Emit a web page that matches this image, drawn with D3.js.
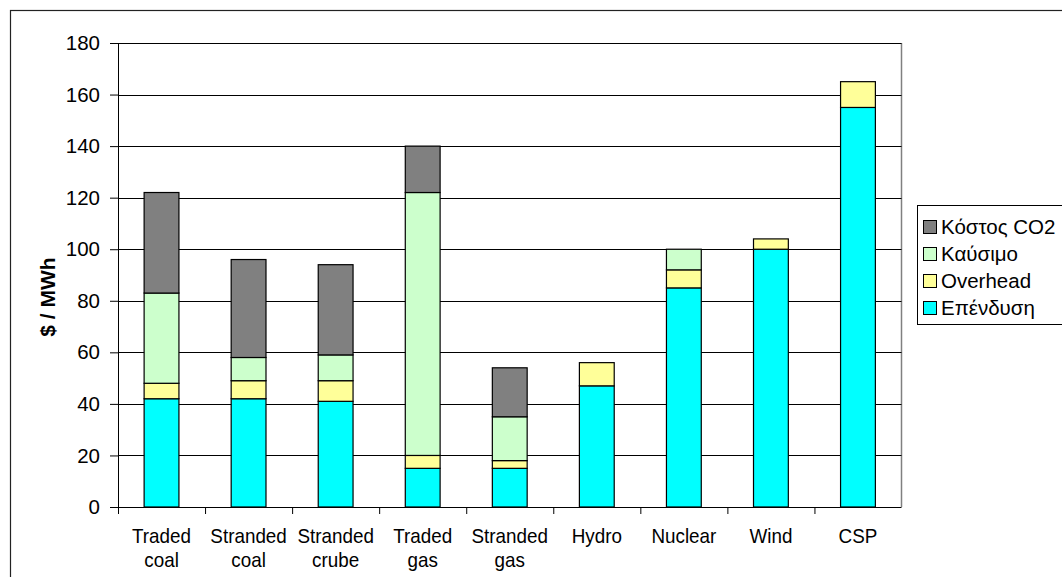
<!DOCTYPE html>
<html>
<head>
<meta charset="utf-8">
<script src="https://cdn.jsdelivr.net/npm/d3@7"></script>
<style>
  html, body { margin: 0; padding: 0; background: #fff; }
  svg { display: block; font-family: "Liberation Sans", Arial, sans-serif; }
</style>
</head>
<body>
<svg id="chart" width="1062" height="577"></svg>
<script>
// Cost components per technology, $ / MWh
const categories = [
  ["Traded", "coal"], ["Stranded", "coal"], ["Stranded", "crube"],
  ["Traded", "gas"], ["Stranded", "gas"], ["Hydro"], ["Nuclear"], ["Wind"], ["CSP"]
];
const seriesNames = ["Επένδυση", "Overhead", "Καύσιμο", "Κόστος CO2"];
const investment = [42, 42, 41, 15, 15, 47, 85, 100, 155];
const overhead   = [6, 7, 8, 5, 3, 9, 7, 4, 10];
const fuel       = [35, 9, 10, 102, 17, 0, 8, 0, 0];
const co2Cost    = [39, 38, 35, 18, 19, 0, 0, 0, 0];
const yTicks = [0, 20, 40, 60, 80, 100, 120, 140, 160, 180];

const colors = ["#00FFFF", "#FFFF99", "#CCFFCC", "#808080"];

const svg = d3.select("#chart");
const keys = categories.map(c => c.join(" "));
const rows = keys.map((k, i) => ({
  key: k,
  "Επένδυση": investment[i],
  "Overhead": overhead[i],
  "Καύσιμο": fuel[i],
  "Κόστος CO2": co2Cost[i]
}));

const plotLeft = 118, plotRight = 901.5, plotTop = 43, plotBottom = 507;
const x = d3.scaleBand().domain(keys).range([plotLeft, plotRight]).padding(0);
const y = d3.scaleLinear().domain([0, 180]).range([plotBottom, plotTop]);
const color = d3.scaleOrdinal().domain(seriesNames).range(colors);

// outer chart frame
svg.append("rect")
  .attr("x", 10.5).attr("y", 10.5)
  .attr("width", 1100).attr("height", 700)
  .attr("fill", "none").attr("stroke", "#222").attr("stroke-width", 1.2);

// plot-area right edge
svg.append("line")
  .attr("x1", plotRight).attr("x2", plotRight)
  .attr("y1", plotTop).attr("y2", plotBottom)
  .attr("stroke", "#808080").attr("stroke-width", 1.5);

// horizontal gridlines
svg.append("g").selectAll("line")
  .data(yTicks.filter(d => d > 0))
  .join("line")
  .attr("x1", plotLeft).attr("x2", plotRight)
  .attr("y1", d => Math.round(y(d)) + 0.5).attr("y2", d => Math.round(y(d)) + 0.5)
  .attr("stroke", "#000").attr("stroke-width", 1);

// y axis
const yAxis = svg.append("g")
  .attr("transform", `translate(${plotLeft},0)`)
  .call(d3.axisLeft(y).tickValues(yTicks).tickSize(8).tickPadding(10).tickFormat(d3.format("d")));
yAxis.select(".domain").attr("stroke", "#000");
yAxis.selectAll(".tick line").attr("stroke", "#000");
yAxis.selectAll("text")
  .attr("font-size", "20.5px").attr("fill", "#000")
  .attr("font-family", "Liberation Sans, Arial, sans-serif");

// y axis title
svg.append("text")
  .attr("transform", "translate(55,297) rotate(-90)")
  .attr("text-anchor", "middle")
  .attr("font-size", "21px").attr("font-weight", "bold")
  .text("$ / MWh");

// stacked bars
const stack = d3.stack().keys(seriesNames)(rows);
const barW = x.bandwidth() * 0.4;
svg.append("g").selectAll("g")
  .data(stack)
  .join("g")
  .attr("fill", d => color(d.key))
  .selectAll("rect")
  .data(d => d.filter(s => s[1] - s[0] > 0))
  .join("rect")
  .attr("x", d => x(d.data.key) + (x.bandwidth() - barW) / 2)
  .attr("width", barW)
  .attr("y", d => y(d[1]))
  .attr("height", d => y(d[0]) - y(d[1]))
  .attr("stroke", "#000").attr("stroke-width", 1.2);

// x axis line and category ticks
svg.append("line")
  .attr("x1", plotLeft - 8).attr("x2", plotRight)
  .attr("y1", plotBottom + 0.5).attr("y2", plotBottom + 0.5)
  .attr("stroke", "#000");
svg.append("g").selectAll("line")
  .data(keys)
  .join("line")
  .attr("x1", d => x(d) + 0.5).attr("x2", d => x(d) + 0.5)
  .attr("y1", plotBottom).attr("y2", plotBottom + 7)
  .attr("stroke", "#000");

// category labels
const lbl = svg.append("g").selectAll("g")
  .data(categories)
  .join("g")
  .attr("transform", (d, i) => `translate(${x(keys[i]) + x.bandwidth() / 2},0) scale(0.92,1)`);
lbl.selectAll("text")
  .data(d => d)
  .join("text")
  .attr("x", 0)
  .attr("y", (d, i) => 543 + i * 24)
  .attr("text-anchor", "middle")
  .attr("font-size", "20.5px")
  .text(d => d);

// legend
const legend = svg.append("g");
legend.append("rect")
  .attr("x", 917.5).attr("y", 205.5)
  .attr("width", 200).attr("height", 119)
  .attr("fill", "#fff").attr("stroke", "#000").attr("stroke-width", 1);
const legendItems = seriesNames.slice().reverse();
const li = legend.selectAll("g.item")
  .data(legendItems)
  .join("g")
  .attr("class", "item")
  .attr("transform", (d, i) => `translate(0,${227 + i * 27})`);
li.append("rect")
  .attr("x", 923.5).attr("y", -6.5)
  .attr("width", 13).attr("height", 13)
  .attr("fill", d => color(d)).attr("stroke", "#000");
li.append("text")
  .attr("x", 941).attr("y", 7)
  .attr("font-size", "20.5px")
  .text(d => d);
</script>
</body>
</html>
